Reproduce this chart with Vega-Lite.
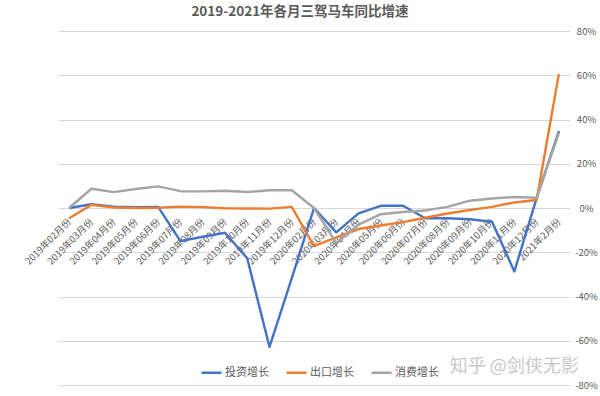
{
  "$schema": "https://vega.github.io/schema/vega-lite/v6.json",
  "width": 512,
  "height": 354,
  "autosize": {"type": "none"},
  "padding": {"left": 58, "top": 31, "right": 30, "bottom": 11},
  "background": "white",
  "title": {
    "text": "2019-2021年各月三驾马车同比增速",
    "fontSize": 13.5,
    "fontWeight": "bold",
    "color": "#595959",
    "font": "Noto Sans CJK SC",
    "anchor": "middle",
    "dx": -14,
    "offset": 8
  },
  "config": {
    "view": {"stroke": null},
    "font": "Noto Sans CJK SC"
  },
  "datasets": {
    "series": [
      {"month": "2019年02月份", "series": "投资增长", "value": 0},
      {"month": "2019年03月份", "series": "投资增长", "value": 1.7},
      {"month": "2019年04月份", "series": "投资增长", "value": 0.6},
      {"month": "2019年05月份", "series": "投资增长", "value": 0.4},
      {"month": "2019年06月份", "series": "投资增长", "value": 0.5},
      {"month": "2019年07月份", "series": "投资增长", "value": -15},
      {"month": "2019年08月份", "series": "投资增长", "value": -13},
      {"month": "2019年09月份", "series": "投资增长", "value": -11.2},
      {"month": "2019年10月份", "series": "投资增长", "value": -22.7},
      {"month": "2019年11月份", "series": "投资增长", "value": -62.8},
      {"month": "2019年12月份", "series": "投资增长", "value": -31.8},
      {"month": "2020年02月份", "series": "投资增长", "value": 0},
      {"month": "2020年03月份", "series": "投资增长", "value": -11},
      {"month": "2020年04月份", "series": "投资增长", "value": -2.4},
      {"month": "2020年05月份", "series": "投资增长", "value": 1.0},
      {"month": "2020年06月份", "series": "投资增长", "value": 1.0},
      {"month": "2020年07月份", "series": "投资增长", "value": -4.6},
      {"month": "2020年08月份", "series": "投资增长", "value": -4.6},
      {"month": "2020年09月份", "series": "投资增长", "value": -5.1},
      {"month": "2020年10月份", "series": "投资增长", "value": -6.2},
      {"month": "2020年11月份", "series": "投资增长", "value": -28.7},
      {"month": "2020年12月份", "series": "投资增长", "value": 4.5},
      {"month": "2021年2月份", "series": "投资增长", "value": 34.8},
      {"month": "2019年02月份", "series": "出口增长", "value": -4.6},
      {"month": "2019年03月份", "series": "出口增长", "value": 1.4},
      {"month": "2019年04月份", "series": "出口增长", "value": 0.2},
      {"month": "2019年05月份", "series": "出口增长", "value": 0.0},
      {"month": "2019年06月份", "series": "出口增长", "value": 0.1},
      {"month": "2019年07月份", "series": "出口增长", "value": 0.6},
      {"month": "2019年08月份", "series": "出口增长", "value": 0.4},
      {"month": "2019年09月份", "series": "出口增长", "value": -0.1},
      {"month": "2019年10月份", "series": "出口增长", "value": -0.2},
      {"month": "2019年11月份", "series": "出口增长", "value": -0.3},
      {"month": "2019年12月份", "series": "出口增长", "value": 0.5},
      {"month": "2020年02月份", "series": "出口增长", "value": -17.2},
      {"month": "2020年03月份", "series": "出口增长", "value": -13.3},
      {"month": "2020年04月份", "series": "出口增长", "value": -9.5},
      {"month": "2020年05月份", "series": "出口增长", "value": -7.9},
      {"month": "2020年06月份", "series": "出口增长", "value": -6.4},
      {"month": "2020年07月份", "series": "出口增长", "value": -4.4},
      {"month": "2020年08月份", "series": "出口增长", "value": -2.5},
      {"month": "2020年09月份", "series": "出口增长", "value": -0.9},
      {"month": "2020年10月份", "series": "出口增长", "value": 0.5},
      {"month": "2020年11月份", "series": "出口增长", "value": 2.5},
      {"month": "2020年12月份", "series": "出口增长", "value": 3.6},
      {"month": "2021年2月份", "series": "出口增长", "value": 60.6},
      {"month": "2019年02月份", "series": "消费增长", "value": 0},
      {"month": "2019年03月份", "series": "消费增长", "value": 8.7},
      {"month": "2019年04月份", "series": "消费增长", "value": 7.2},
      {"month": "2019年05月份", "series": "消费增长", "value": 8.6},
      {"month": "2019年06月份", "series": "消费增长", "value": 9.8},
      {"month": "2019年07月份", "series": "消费增长", "value": 7.6},
      {"month": "2019年08月份", "series": "消费增长", "value": 7.5},
      {"month": "2019年09月份", "series": "消费增长", "value": 7.8},
      {"month": "2019年10月份", "series": "消费增长", "value": 7.2},
      {"month": "2019年11月份", "series": "消费增长", "value": 8.0},
      {"month": "2019年12月份", "series": "消费增长", "value": 8.0},
      {"month": "2020年02月份", "series": "消费增长", "value": 0},
      {"month": "2020年03月份", "series": "消费增长", "value": -15.8},
      {"month": "2020年04月份", "series": "消费增长", "value": -7.5},
      {"month": "2020年05月份", "series": "消费增长", "value": -2.8},
      {"month": "2020年06月份", "series": "消费增长", "value": -1.8},
      {"month": "2020年07月份", "series": "消费增长", "value": -1.1},
      {"month": "2020年08月份", "series": "消费增长", "value": 0.5},
      {"month": "2020年09月份", "series": "消费增长", "value": 3.3},
      {"month": "2020年10月份", "series": "消费增长", "value": 4.3},
      {"month": "2020年11月份", "series": "消费增长", "value": 5.0},
      {"month": "2020年12月份", "series": "消费增长", "value": 4.6},
      {"month": "2021年2月份", "series": "消费增长", "value": 33.8}
    ],
    "mark": [
      {"month": "2020年11月份", "value": -72, "label": "知乎 @剑侠无影"}
    ]
  },
  "layer": [
    {
      "data": {"name": "series"},
      "mark": {"type": "line", "strokeWidth": 2.4, "strokeJoin": "round"},
      "encoding": {
        "x": {
          "field": "month",
          "type": "ordinal",
          "sort": null,
          "scale": {"type": "point", "padding": 0.5},
          "axis": {
            "title": null,
            "orient": "bottom",
            "offset": -177,
            "domain": false,
            "ticks": false,
            "grid": false,
            "labelAngle": -45,
            "labelAlign": "right",
            "labelBaseline": "middle",
            "labelPadding": 12,
            "labelFontSize": 9.5,
            "labelColor": "#595959",
            "labelFont": "Noto Sans CJK SC",
            "labelOverlap": false
          }
        },
        "y": {
          "field": "value",
          "type": "quantitative",
          "scale": {"domain": [-80, 80], "nice": false, "zero": false},
          "axis": {
            "title": null,
            "orient": "right",
            "values": [-80, -60, -40, -20, 0, 20, 40, 60, 80],
            "labelExpr": "datum.value + '%'",
            "domain": false,
            "ticks": false,
            "grid": true,
            "gridColor": "#d9d9d9",
            "gridWidth": 1,
            "labelAlign": "center",
            "labelPadding": 16,
            "labelFontSize": 9.5,
            "labelColor": "#595959",
            "labelFont": "Noto Sans CJK SC"
          }
        },
        "color": {
          "field": "series",
          "type": "nominal",
          "scale": {
            "domain": ["投资增长", "出口增长", "消费增长"],
            "range": ["#4472C4", "#ED7D31", "#A5A5A5"]
          },
          "legend": {
            "title": null,
            "orient": "none",
            "direction": "horizontal",
            "legendX": 142,
            "legendY": 330,
            "symbolType": "stroke",
            "symbolStrokeWidth": 2.5,
            "symbolSize": 400,
            "labelFontSize": 11,
            "labelColor": "#595959",
            "labelFont": "Noto Sans CJK SC",
            "columnPadding": 12,
            "labelOffset": 2
          }
        }
      }
    },
    {
      "data": {"name": "mark"},
      "mark": {"type": "text", "fontSize": 18, "color": "#c8c8c8", "align": "center", "baseline": "middle", "font": "Noto Sans CJK SC"},
      "encoding": {
        "x": {"field": "month", "type": "ordinal"},
        "y": {"field": "value", "type": "quantitative"},
        "text": {"field": "label"}
      }
    }
  ]
}
